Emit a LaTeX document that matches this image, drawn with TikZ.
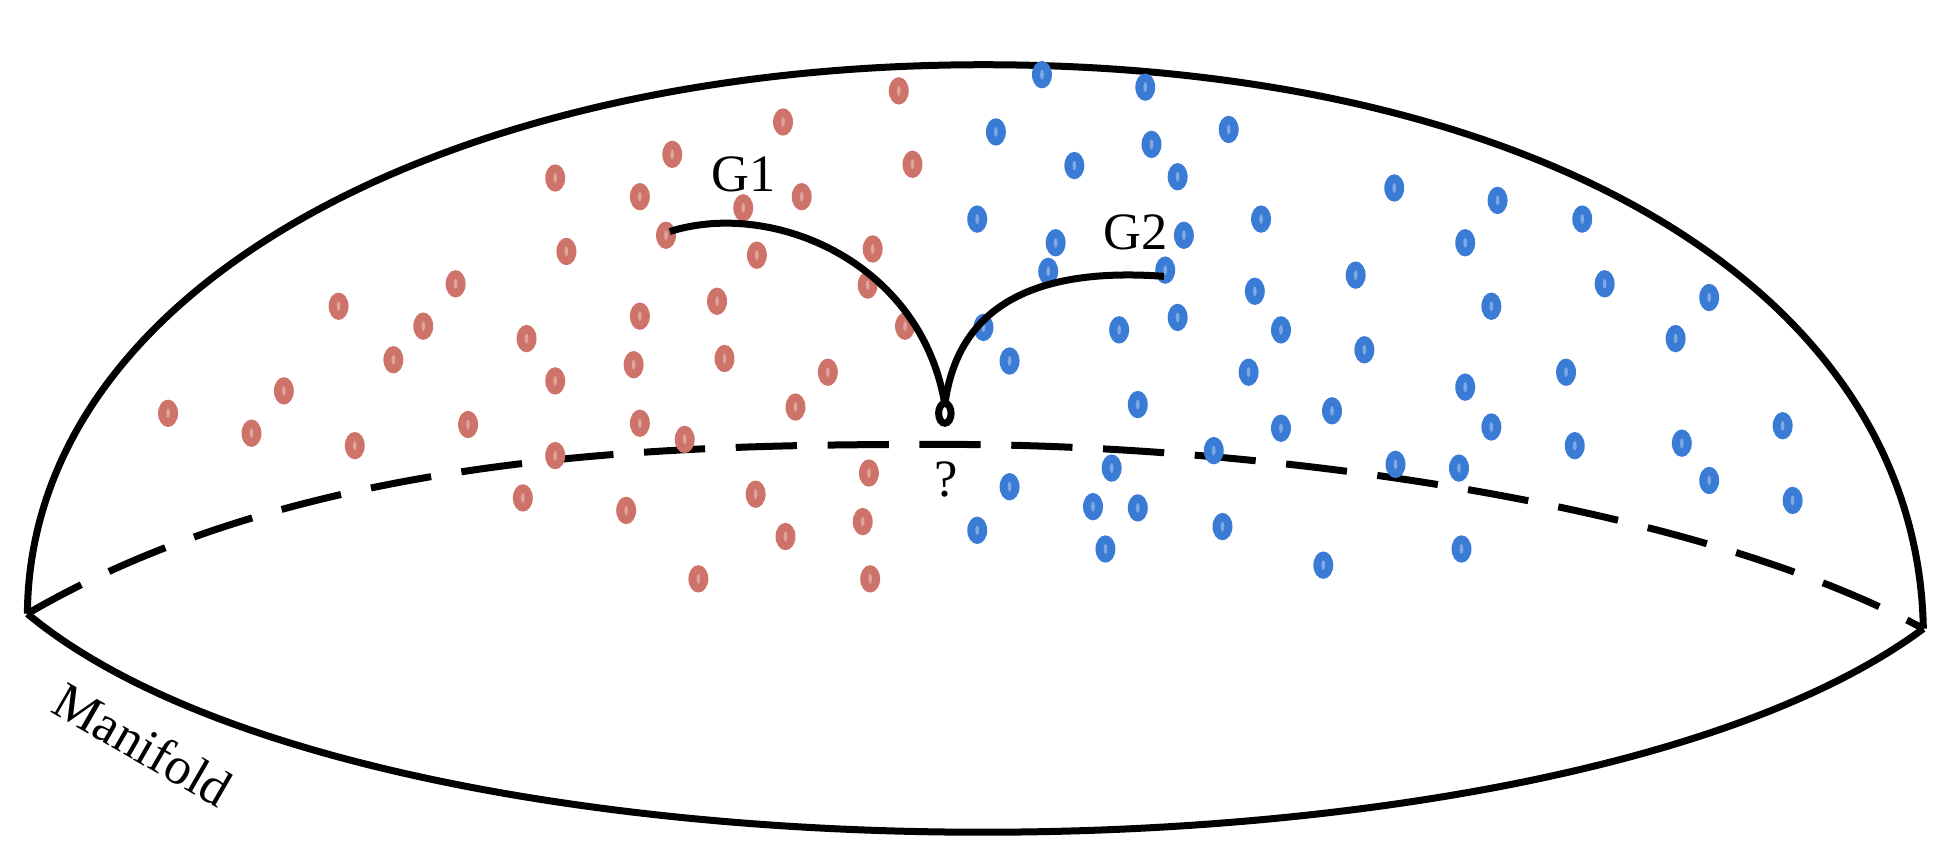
\documentclass[tikz,border=0pt]{standalone}
\usepackage{fontspec}
\setmainfont{Liberation Serif}
\definecolor{rdot}{HTML}{CD7369}
\definecolor{bdot}{HTML}{3A7BD5}
\begin{document}
\begin{tikzpicture}[x=0.02cm,y=-0.02cm,
  lbl/.style={font=\fontsize{24}{28}\selectfont,inner sep=0pt},
  thick line/.style={line width=3.2pt}]
\useasboundingbox (0,0) rectangle (1560,695);
\coordinate (L) at (22,493);
\coordinate (R) at (1545,505);
\coordinate (T) at (790,52);
\draw[thick line] (L) .. controls (24,230) and (360,52) .. (T) .. controls (1230,52) and (1540,230) .. (R);
\draw[thick line] (L) .. controls (300,725) and (1250,725) .. (R);
\draw[thick line,dash pattern=on 28pt off 14pt] (L) .. controls (250,360) and (550,357) .. (760,357) .. controls (1000,357) and (1350,400) .. (R);
\foreach \p in {(722,73),(629,98),(540,124),(446,143),(514,158),(597,167),(644,158),(733,132),(535,189),(455,202),(608,205),(701,200),(697,229),(366,228),(272,246),(514,254),(576,242),(727,262),(340,262),(423,272),(316,289),(509,293),(582,288),(665,299),(446,306),(228,314),(135,332),(202,348),(285,358),(376,341),(514,340),(550,353),(639,327),(446,366),(698,380),(420,400),(503,410),(607,397),(693,419),(631,431),(561,465),(699,465)}
  {\fill[rdot] \p ellipse [x radius=8, y radius=11]; \fill[white,opacity=0.35] \p ellipse [x radius=1.5, y radius=4];}
\foreach \p in {(837,60),(920,70),(800,106),(987,104),(925,116),(863,133),(946,142),(1120,151),(1203,161),(785,176),(848,195),(951,189),(1013,176),(1271,176),(1177,195),(842,218),(936,217),(1089,221),(1008,234),(1289,228),(1373,239),(1198,246),(946,255),(790,263),(899,265),(1029,265),(1346,272),(1096,281),(811,290),(1003,299),(1258,299),(1177,311),(914,325),(1070,330),(1029,344),(1198,343),(1432,342),(1265,358),(1351,356),(975,362),(1121,373),(1172,376),(893,376),(1373,386),(1440,402),(811,391),(878,407),(914,408),(785,426),(982,423),(888,441),(1063,454),(1174,441)}
  {\fill[bdot] \p ellipse [x radius=8, y radius=11]; \fill[white,opacity=0.35] \p ellipse [x radius=1.5, y radius=4];}
\coordinate (g1s) at (538,186);
\coordinate (q) at (759,325);
\coordinate (g2e) at (935,222);
\draw[thick line] (g1s) .. controls (620,160) and (740,210) .. (q);
\draw[thick line] (q) .. controls (770,240) and (840,215) .. (g2e);
\draw[thick line] (759,332) ellipse [x radius=5, y radius=8];
\node[lbl] (G1) at (597,140) {G1};
\node[lbl] (G2) at (912,187) {G2};
\node[lbl] (qm) at (760,385) {?};
\node[lbl,rotate=-30] (man) at (115,598) {Manifold};
\end{tikzpicture}
\end{document}
